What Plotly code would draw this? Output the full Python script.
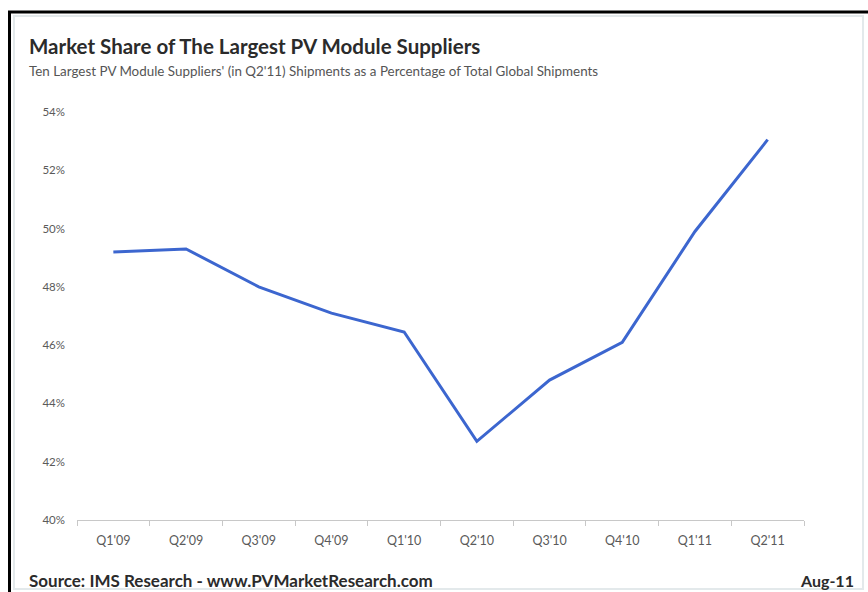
import plotly.graph_objects as go

quarters = ["Q1'09", "Q2'09", "Q3'09", "Q4'09", "Q1'10", "Q2'10", "Q3'10", "Q4'10", "Q1'11", "Q2'11"]
share_pct = [49.2, 49.3, 48.0, 47.1, 46.45, 42.7, 44.8, 46.1, 49.9, 53.05]
y_ticks = [40, 42, 44, 46, 48, 50, 52, 54]
y_tick_labels = [f"{v}%" for v in y_ticks]

W, H = 868, 592
L, R, T, B = 77, 64, 112, 72
PW, PH = W - L - R, H - T - B

def px(x):
    return (x - L) / PW

def py(y):
    return 1 - (y - T) / PH

fig = go.Figure()
fig.add_trace(go.Scatter(
    x=quarters, y=share_pct, mode="lines",
    line=dict(color="#3c66cf", width=3),
    hoverinfo="x+y",
))

font_main = "Lato, 'Open Sans', sans-serif"

fig.update_layout(
    width=W, height=H,
    margin=dict(l=L, r=R, t=T, b=B),
    paper_bgcolor="white", plot_bgcolor="white",
    showlegend=False,
    font=dict(family=font_main, color="#595959"),
    xaxis=dict(
        type="category", range=[-0.5, 9.5],
        showgrid=False, zeroline=False,
        showline=True, linecolor="#c8c8c8", linewidth=1,
        ticks="outside", tickson="boundaries", ticklen=5, tickcolor="#c8c8c8",
        tickfont=dict(size=12.5, color="#5a5a5a"),
        ticklabelstandoff=9,
    ),
    yaxis=dict(
        range=[40, 54], tickvals=y_ticks, ticktext=y_tick_labels,
        showgrid=False, zeroline=False, showline=False,
        tickfont=dict(size=11.5, color="#5a5a5a"),
        ticks="", ticklabelstandoff=11,
    ),
    shapes=[
        # outer black frame (top and left)
        dict(type="line", xref="paper", yref="paper",
             x0=px(8), x1=px(W + 5), y0=py(12), y1=py(12),
             line=dict(color="black", width=3)),
        dict(type="line", xref="paper", yref="paper",
             x0=px(9.5), x1=px(9.5), y0=py(11), y1=py(H + 5),
             line=dict(color="black", width=3)),
        # pale inner frame
        dict(type="rect", xref="paper", yref="paper",
             x0=px(14), x1=px(863), y0=py(16), y1=py(589),
             line=dict(color="#e3e9eb", width=2)),
    ],
    annotations=[
        dict(text="<b>Market Share of The Largest PV Module Suppliers</b>",
             xref="paper", yref="paper", x=px(27), y=py(46),
             xanchor="left", yanchor="middle", showarrow=False,
             font=dict(size=20.5, color="#2b2b2b", family=font_main)),
        dict(text="Ten Largest PV Module Suppliers' (in Q2'11) Shipments as a Percentage of Total Global Shipments",
             xref="paper", yref="paper", x=px(27), y=py(71),
             xanchor="left", yanchor="middle", showarrow=False,
             font=dict(size=13.4, color="#555555", family=font_main)),
        dict(text="<b>Source: IMS Research - www.PVMarketResearch.com</b>",
             xref="paper", yref="paper", x=px(27), y=py(580),
             xanchor="left", yanchor="middle", showarrow=False,
             font=dict(size=17, color="#2b2b2b", family=font_main)),
        dict(text="<b>Aug-11</b>",
             xref="paper", yref="paper", x=px(856), y=py(580),
             xanchor="right", yanchor="middle", showarrow=False,
             font=dict(size=16, color="#2b2b2b", family=font_main)),
    ],
)

fig.write_html("out.html")
